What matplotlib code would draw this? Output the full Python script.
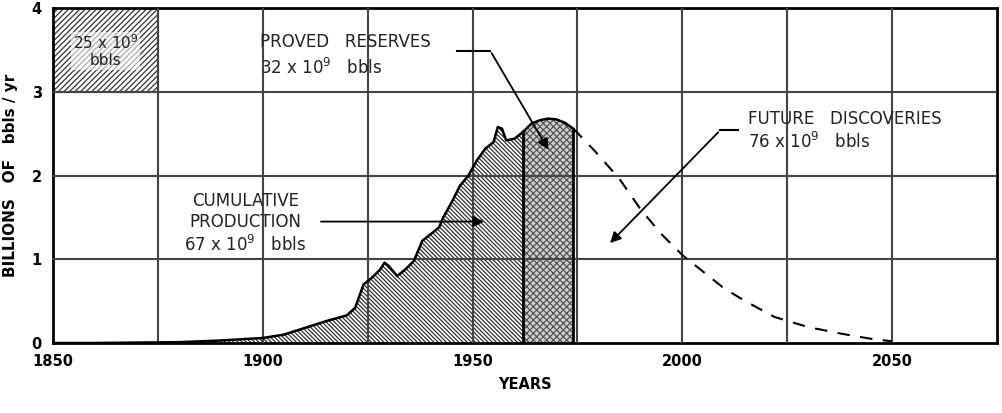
import numpy as np
import matplotlib
matplotlib.use('Agg')
import matplotlib.pyplot as plt
from matplotlib.patches import Rectangle

# Historical production (billions bbls/yr)
hist_years = [1850, 1860, 1870, 1880, 1890, 1900, 1905, 1910, 1915, 1920, 1922, 1924,
              1926, 1928, 1929, 1930, 1932, 1934, 1936, 1938, 1940, 1942, 1943, 1945,
              1947, 1949, 1951, 1953, 1955, 1956, 1957, 1958, 1960, 1962]
hist_prod = [0.0, 0.0, 0.005, 0.01, 0.03, 0.06, 0.10, 0.18, 0.26, 0.33, 0.42, 0.70,
             0.78, 0.88, 0.96, 0.92, 0.80, 0.88, 0.98, 1.22, 1.30, 1.38, 1.50, 1.68,
             1.88, 2.00, 2.18, 2.32, 2.40, 2.58, 2.56, 2.42, 2.44, 2.52]

# Proved reserves portion
res_years = [1962, 1964, 1966, 1968, 1970, 1972, 1974]
res_prod = [2.52, 2.62, 2.66, 2.68, 2.67, 2.63, 2.56]

# Future discoveries (dashed projection)
fut_years = [1974, 1979, 1985, 1990, 1995, 2000, 2005, 2010, 2015, 2022, 2030, 2038, 2045, 2050]
fut_prod = [2.56, 2.30, 1.96, 1.60, 1.30, 1.05, 0.85, 0.65, 0.50, 0.31, 0.19, 0.11, 0.05, 0.02]

x_ticks = [1850, 1900, 1950, 2000, 2050]
y_ticks = [0, 1, 2, 3, 4]

plt.rcParams['hatch.linewidth'] = 0.9
fig = plt.figure(figsize=(10.02, 4.13), dpi=100)
ax = fig.add_axes([0.053, 0.1695, 0.942, 0.811])

ax.set_xlim(1850, 2075)
ax.set_ylim(0, 4)

# grid every 25 years and every unit (shows through the shading)
for yr in range(1875, 2075, 25):
    ax.axvline(yr, color='#444444', lw=1.5, zorder=3)
for v in [1, 2, 3]:
    ax.axhline(v, color='#444444', lw=1.5, zorder=3)

# cumulative production
ax.fill_between(hist_years, hist_prod, facecolor='white', edgecolor='#333333',
                hatch='\\' * 8, lw=0, zorder=2)
ax.plot(hist_years, hist_prod, color='black', lw=1.8, zorder=4)

# proved reserves
ax.fill_between(res_years, res_prod, facecolor='#d0d0d0', edgecolor='#555555',
                hatch='xxxxx', lw=0, zorder=2)
ax.plot(res_years, res_prod, color='black', lw=1.8, zorder=4)
ax.vlines([1962, 1974], 0, [res_prod[0], res_prod[-1]], color='black', lw=2, zorder=4)

# future discoveries
ax.plot(fut_years, fut_prod, color='black', lw=1.5, ls=(0, (6, 5)), zorder=4)

# scale box at top left
ax.add_patch(Rectangle((1850, 3), 25, 1, facecolor='white', edgecolor='#333333',
                       hatch='//////', lw=1.5, zorder=2))
ax.text(1862.5, 3.49, '25 x 10$^9$\nbbls', ha='center', va='center', fontsize=11,
        color='#222222', linespacing=1.1, zorder=5,
        bbox=dict(facecolor='white', edgecolor='none', pad=1, alpha=0.6))

txt = dict(fontsize=12, color='#222222', zorder=5)
ax.text(1899.3, 3.59, 'PROVED   RESERVES', ha='left', va='center', **txt)
ax.text(1899.3, 3.29, '32 x 10$^9$   bbls', ha='left', va='center', **txt)
ax.text(2015.6, 2.67, 'FUTURE   DISCOVERIES', ha='left', va='center', **txt)
ax.text(2015.6, 2.40, '76 x 10$^9$   bbls', ha='left', va='center', **txt)
ax.text(1895.8, 1.69, 'CUMULATIVE', ha='center', va='center', **txt)
ax.text(1895.8, 1.45, 'PRODUCTION', ha='center', va='center', **txt)
ax.text(1895.8, 1.17, '67 x 10$^9$   bbls', ha='center', va='center', **txt)

arrow = dict(arrowstyle='-|>', color='black', lw=1.3, mutation_scale=16)
ax.annotate('', xy=(1953.4, 1.45), xytext=(1913.2, 1.45), arrowprops=arrow, zorder=6)
ax.annotate('', xy=(1968.4, 2.28), xytext=(1954.2, 3.49),
            arrowprops=arrow, zorder=6)
ax.plot([1946.3, 1954.2], [3.49, 3.49], color='black', lw=1.5, zorder=6)
ax.annotate('', xy=(1982.3, 1.17), xytext=(2009, 2.54),
            arrowprops=arrow, zorder=6)
ax.plot([2009, 2013.3], [2.54, 2.54], color='black', lw=1.5, zorder=6)

ax.set_xticks(x_ticks)
ax.set_yticks(y_ticks)
ax.tick_params(length=0, labelsize=10.5, pad=8)
for lab in ax.get_xticklabels() + ax.get_yticklabels():
    lab.set_fontweight('bold')
for s in ax.spines.values():
    s.set_linewidth(2)
ax.set_xlabel('YEARS', fontsize=10.5, fontweight='bold', labelpad=6)
ax.set_ylabel('BILLIONS   OF   bbls / yr', fontsize=11, fontweight='bold', labelpad=10)

fig.savefig('out.png', dpi=100)
